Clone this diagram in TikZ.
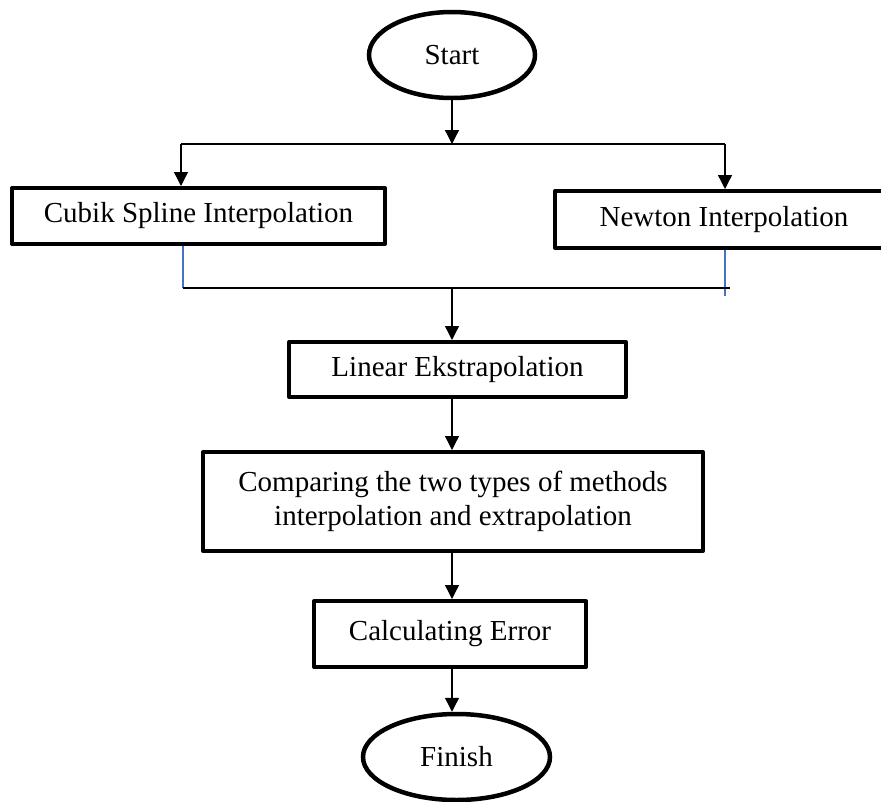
\documentclass[tikz,border=0pt]{standalone}
\usepackage{fontspec}
\setmainfont{Liberation Serif}
\usetikzlibrary{shapes.geometric,arrows.meta}
\definecolor{linkblue}{RGB}{68,114,196}
\begin{document}
\begin{tikzpicture}[x=1pt,y=-1pt,
  every node/.style={font=\fontsize{29}{34}\selectfont},
  procbox/.style={draw=black,line width=4pt,rectangle,inner sep=0pt,line join=round,align=center},
  term/.style={draw=black,line width=4.5pt,ellipse,inner sep=0pt},
  conn/.style={draw=black,line width=1.3pt},
  arr/.style={conn,-{Triangle[width=14pt,length=14pt]}},
  blueline/.style={draw=linkblue,line width=1.2pt}]
\clip (0,0) rectangle (881,801);
\fill[white] (0,0) rectangle (881,801);

\node[term,minimum width=166pt,minimum height=86pt] (start) at (452,55) {Start};
\node[procbox,minimum width=373pt,minimum height=56pt] (cubik) at (198.5,216) {Cubik Spline Interpolation};
\node[procbox,minimum width=338pt,minimum height=57pt] (newton) at (724,219.5) {Newton Interpolation};
\node[procbox,minimum width=337pt,minimum height=55pt] (linear) at (457.5,369.5) {Linear Ekstrapolation};
\node[procbox,minimum width=500pt,minimum height=99pt] (compare) at (453,501.5) {Comparing the two types of methods\\interpolation and extrapolation};
\node[procbox,minimum width=272pt,minimum height=66pt] (calc) at (450,634) {Calculating Error};
\node[term,minimum width=187pt,minimum height=86pt] (finish) at (456.5,757) {Finish};

\coordinate (split) at (452,144);
\coordinate (splitL) at (181,144);
\coordinate (splitR) at (725,144);
\coordinate (joinL) at (183,288);
\coordinate (joinR) at (730,288);
\coordinate (joinM) at (452,288);
\coordinate (blueR) at (725,296);

\draw[arr] (start.south -| split) -- (split);
\draw[conn] (splitL) -- (splitR);
\draw[arr] (splitL) -- (splitL |- cubik.north);
\draw[arr] (splitR) -- (splitR |- newton.north);
\draw[blueline] (joinL |- cubik.south) -- (joinL);
\draw[blueline] (blueR |- newton.south) -- (blueR);
\draw[conn] (joinL) -- (joinR);
\draw[arr] (joinM) -- (joinM |- linear.north);
\draw[arr] (joinM |- linear.south) -- (joinM |- compare.north);
\draw[arr] (joinM |- compare.south) -- (joinM |- calc.north);
\draw[arr] (joinM |- calc.south) -- (joinM |- finish.north);
\end{tikzpicture}
\end{document}
